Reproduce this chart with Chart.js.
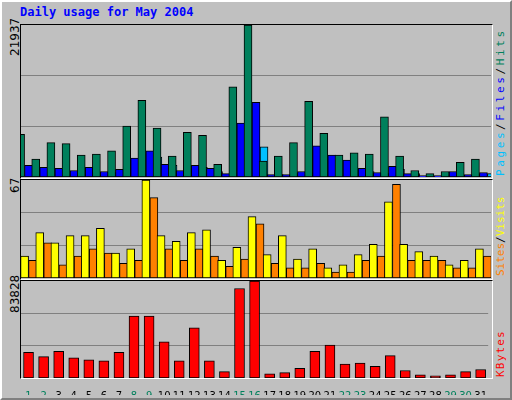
<!DOCTYPE html>
<html>
<head>
<meta charset="utf-8">
<script src="https://cdn.jsdelivr.net/npm/chart.js@4"></script>
<style>
  body { margin: 0; width: 512px; height: 400px; overflow: hidden; background: #fff; }
  #frame { position: absolute; left: 0; top: 0; width: 508px; height: 396px; background: #C0C0C0;
           border: 2px solid; border-color: #fff #808080 #808080 #fff; }
  .panel { position: absolute; left: 20px; width: 471px; border: 1px solid; border-color: #000 #fff #fff #000; }
  canvas { position: absolute; }
  .txt { position: absolute; font-family: "DejaVu Sans Mono", monospace; font-size: 11px; white-space: nowrap; line-height: 13px; }
  .rot { transform-origin: left top; transform: rotate(-90deg); }
</style>
</head>
<body>
<div id="frame"></div>
<div class="txt" style="left:20px;top:6px;color:#0000FF;font-weight:bold;font-size:12px;">Daily usage for May 2004</div>

<div class="panel" style="top:24px;height:153px;"></div>
<div class="panel" style="top:179px;height:99px;"></div>
<div class="panel" style="top:280px;height:97px;"></div>

<div class="txt rot" style="left:9px;top:56px;font-family:'DejaVu Sans';font-size:12px;">21937</div>
<div class="txt rot" style="left:9px;top:193px;font-family:'DejaVu Sans';font-size:12px;">67</div>
<div class="txt rot" style="left:9px;top:313px;font-family:'DejaVu Sans';font-size:12px;">83828</div>

<div class="txt rot" style="left:494px;top:176px;letter-spacing:2.6px;"><span style="color:#00C0FF">Pages</span><span style="color:#000">/</span><span style="color:#0000FF">Files</span><span style="color:#000">/</span><span style="color:#00805C">Hits</span></div>
<div class="txt rot" style="left:494px;top:276px;letter-spacing:0px;"><span style="color:#FF8000">Sites</span><span style="color:#000">/</span><span style="color:#FFFF00">Visits</span></div>
<div class="txt rot" style="left:494px;top:377px;letter-spacing:1.2px;color:#FF0000">KBytes</div>

<canvas id="c1" style="left:21px;top:25px;" width="470" height="152"></canvas>
<canvas id="c2" style="left:21px;top:180px;" width="470" height="98"></canvas>
<canvas id="c3" style="left:21px;top:281px;" width="470" height="114"></canvas>

<script>
const days = ['1','2','3','4','5','6','7','8','9','10','11','12','13','14','15','16','17','18','19','20','21','22','23','24','25','26','27','28','29','30','31'];
const weekendDays = ['1','2','8','9','15','16','22','23','29','30'];

const hits  = [6155,2580,4963,4814,3176,3325,3772,7345,11068,7048,3027,6452,6005,1836,13003,21937,2283,3027,4963,10919,6303,3176,3474,3325,8686,3027,943,496,794,2134,2580];
const files = [1687,1390,1241,943,1390,794,1092,2730,3772,1836,943,1687,1241,496,7792,10770,347,347,794,4516,3176,2432,1241,645,1539,496,200,200,794,347,645];
const pages = [794,645,794,943,645,645,943,1539,2879,1687,943,1390,794,347,2432,4368,347,496,645,943,943,347,794,496,1092,496,100,100,200,347,496];

const visits = [15,31,24,29,29,34,17,20,67,29,25,31,33,12,21,42,16,29,13,20,7,9,16,23,52,23,18,15,9,12,20];
const sites  = [12,24,9,15,20,17,10,12,55,20,12,20,15,8,13,37,10,7,7,10,4,4,12,15,64,12,12,12,7,7,15];

const kbytes = [22109,18424,23030,17503,15660,14739,22109,53430,53430,31320,14739,43296,14739,5527,77380,83828,3685,4606,8291,23030,28557,11976,12897,10133,19345,6448,2764,1842,2764,5527,7370];

const maxTop = 21937, maxMid = 67, maxBot = 83828;

function panelOptions(max, showX) {
    const x = {
        display: showX,
        grid: { display: false },
        border: { display: false },
        ticks: {
            autoSkip: false, maxRotation: 0, minRotation: 0, padding: 4,
            font: { family: 'DejaVu Sans', size: 10 },
            color: (ctx) => weekendDays.includes(days[ctx.index]) ? '#00805C' : '#000'
        }
    };
    if (showX) x.afterFit = (s) => { s.height = 17; };
    return {
        responsive: false,
        animation: false,
        layout: { padding: 0 },
        plugins: { legend: { display: false }, tooltip: { enabled: false } },
        scales: {
            x: x,
            y: {
                display: true,
                min: 0, max: max,
                afterBuildTicks: (s) => { s.ticks = [1, 2].map(k => ({ value: max * k / 3 })); },
                ticks: { display: false },
                border: { display: false },
                grid: { color: '#808080', lineWidth: 1, drawTicks: false },
                afterFit: (s) => { s.width = 0; }
            }
        }
    };
}

function bar(data, color, thick, cp) {
    return { data: data, backgroundColor: color, borderColor: '#000', borderWidth: 1,
             barThickness: thick, categoryPercentage: cp, barPercentage: 1, borderSkipped: false };
}

new Chart(document.getElementById('c1'), {
    type: 'bar',
    data: { labels: days, datasets: [
        bar(hits, '#00805C', 8, 0.5),
        bar(files, '#0000FF', 8, 0.5),
        bar(pages, '#00C0FF', 8, 0.5)
    ]},
    options: panelOptions(maxTop, false)
});

new Chart(document.getElementById('c2'), {
    type: 'bar',
    data: { labels: days, datasets: [
        bar(visits, '#FFFF00', 8, 0.53),
        bar(sites, '#FF8000', 8, 0.53)
    ]},
    options: panelOptions(maxMid, false)
});

new Chart(document.getElementById('c3'), {
    type: 'bar',
    data: { labels: days, datasets: [
        bar(kbytes, '#FF0000', 10, 1.0)
    ]},
    options: panelOptions(maxBot, true)
});
</script>
</body>
</html>
